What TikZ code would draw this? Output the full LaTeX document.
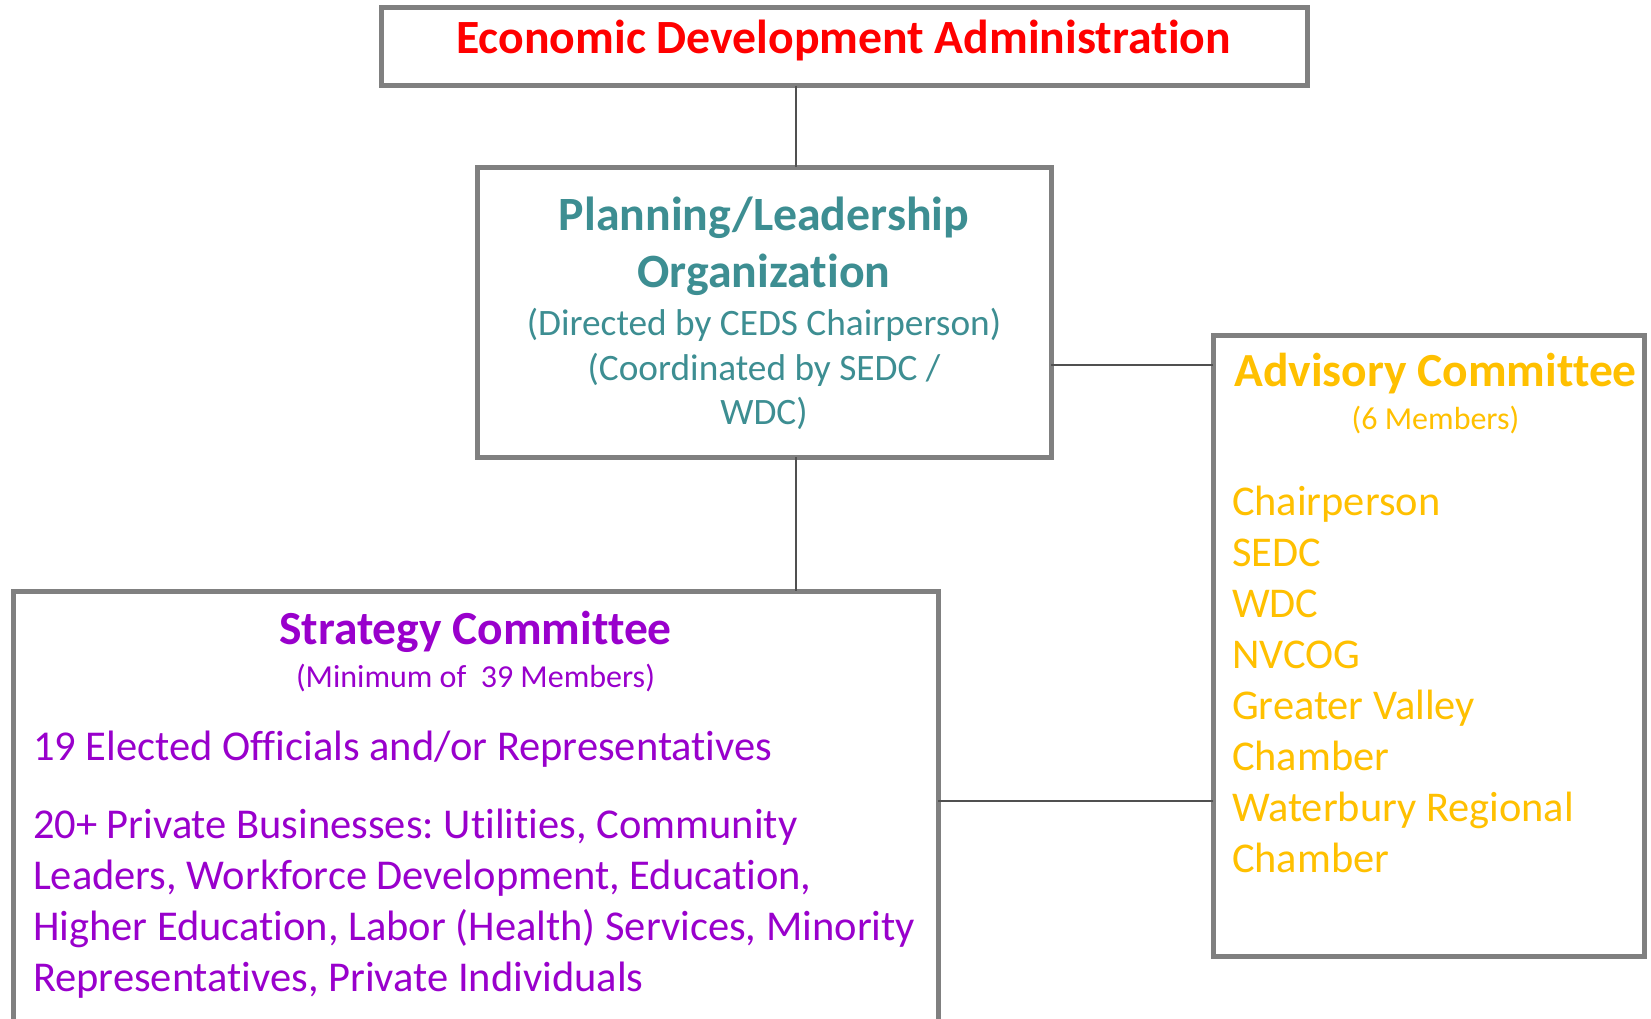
\documentclass[tikz,border=0pt]{standalone}
\usepackage{fontspec}
\setmainfont{Carlito}[Ligatures={NoCommon}]
\definecolor{edared}{RGB}{255,0,0}
\definecolor{plteal}{RGB}{61,142,146}
\definecolor{advgold}{RGB}{255,192,0}
\definecolor{strpurple}{RGB}{153,0,204}
\definecolor{boxgray}{RGB}{128,128,128}
\definecolor{linkgray}{RGB}{80,80,80}
\newcommand{\fsz}[1]{\fontsize{#1bp}{#1bp}\selectfont}
\frenchspacing
\begin{document}
\begin{tikzpicture}[x=1bp,y=-1bp,
  box/.style={draw=boxgray,line width=5bp,fill=white,inner sep=0pt,outer sep=0pt,anchor=north west},
  link/.style={draw=linkgray,line width=2bp},
  ctr/.style={inner sep=0pt,outer sep=0pt,anchor=base},
  lft/.style={inner sep=0pt,outer sep=0pt,anchor=base west},
  edatxt/.style={font=\fsz{47.7}\bfseries,text=edared},
  pltitle/.style={font=\fsz{47.8}\bfseries,text=plteal},
  plsub/.style={font=\fsz{37.3},text=plteal},
  advtitle/.style={font=\fsz{47.5}\bfseries,text=advgold},
  advsub/.style={font=\fsz{32},text=advgold},
  advitem/.style={font=\fsz{42.4},text=advgold},
  strtitle/.style={font=\fsz{47.5}\bfseries,text=strpurple},
  strsub/.style={font=\fsz{32},text=strpurple},
  stritem/.style={font=\fsz{42.5},text=strpurple}]
\useasboundingbox (0,0) rectangle (1651,1018);
\clip (0,0) rectangle (1651,1018);
% boxes
\node[box,minimum width=926bp,minimum height=78bp] (eda) at (381.5,7.5) {};
\node[box,minimum width=574bp,minimum height=290bp] (plan) at (477,167) {};
\node[box,minimum width=431bp,minimum height=621bp] (adv) at (1213,335) {};
\node[box,minimum width=925bp,minimum height=508bp] (strat) at (13,591) {};
% connector guides
\coordinate (cv) at (796,0);
\coordinate (ch1) at (0,365);
\coordinate (ch2) at (0,801);
\draw[link] (eda.south -| cv) -- (plan.north -| cv);
\draw[link] (plan.south -| cv) -- (strat.north -| cv);
\draw[link] (plan.east |- ch1) -- (adv.west |- ch1);
\draw[link] (strat.east |- ch2) -- (adv.west |- ch2);
% EDA text
\node[ctr,edatxt] (edat) at (843.5,53) {Economic Development Administration};
% Planning text
\node[ctr,pltitle] (pl1) at (764,230) {Planning/Leadership};
\node[ctr,pltitle] (pl2) at (764,287) {Organization};
\node[ctr,plsub] (pl3) at (764,335) {(Directed by CEDS Chairperson)};
\node[ctr,plsub] (pl4) at (764,380) {(Coordinated by SEDC /};
\node[ctr,plsub] (pl5) at (764,424.5) {WDC)};
% Advisory text
\node[ctr,advtitle] (ad0) at (1435.5,386) {Advisory Committee};
\node[ctr,advsub] (ad1) at (1435.5,429) {(6 Members)};
\node[lft,advitem] (ai1) at (1232,515.5) {Chairperson};
\node[lft,advitem] (ai2) at (1232,566.5) {SEDC};
\node[lft,advitem] (ai3) at (1232,617.5) {WDC};
\node[lft,advitem] (ai4) at (1232,668.5) {NVCOG};
\node[lft,advitem] (ai5) at (1232,719.5) {Greater Valley};
\node[lft,advitem] (ai6) at (1232,770.5) {Chamber};
\node[lft,advitem] (ai7) at (1232,821.5) {Waterbury Regional};
\node[lft,advitem] (ai8) at (1232,872.5) {Chamber};
% Strategy text
\node[ctr,strtitle] (st0) at (475.5,644.5) {Strategy Committee};
\node[ctr,strsub] (st1) at (475.5,687) {(Minimum of \ 39 Members)};
\node[lft,stritem] (si1) at (33,760) {19 Elected Officials and/or Representatives};
\node[lft,stritem] (si2) at (33,838) {20+ Private Businesses: Utilities, Community};
\node[lft,stritem] (si3) at (33,889) {Leaders, Workforce Development, Education,};
\node[lft,stritem] (si4) at (33,940.5) {Higher Education, Labor (Health) Services, Minority};
\node[lft,stritem] (si5) at (33,991) {Representatives, Private Individuals};
\end{tikzpicture}
\end{document}
